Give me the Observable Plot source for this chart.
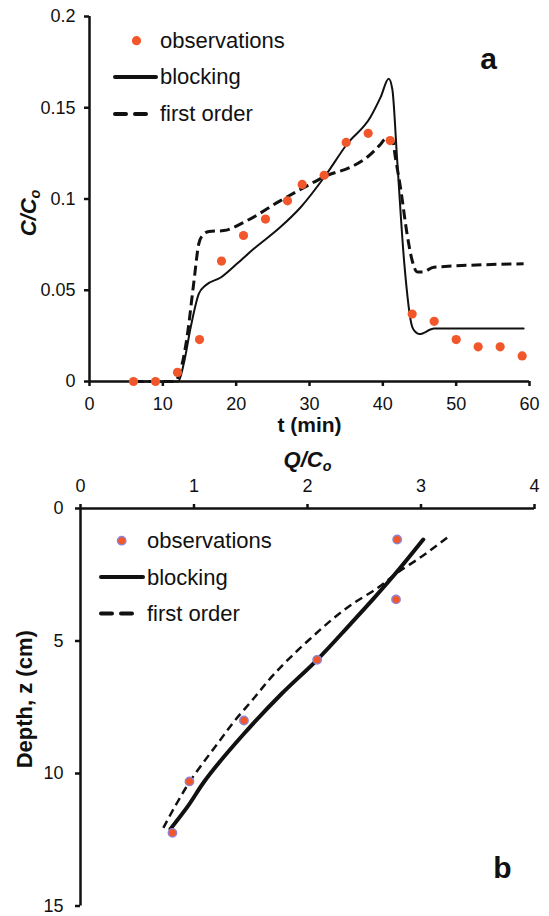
<!DOCTYPE html>
<html>
<head>
<meta charset="utf-8">
<script src="https://cdn.jsdelivr.net/npm/d3@7"></script>
<script src="https://cdn.jsdelivr.net/npm/@observablehq/plot@0.6"></script>
<style>
  html, body { margin: 0; padding: 0; background: #fff; }
  #wrap { position: relative; width: 549px; height: 916px; overflow: hidden; }
  .panel { position: absolute; left: 0; }
  .panel svg { display: block; }
  #legend { position: absolute; left: 0; top: 0; pointer-events: none; }
</style>
</head>
<body>
<div id="wrap">
  <div class="panel" id="panelA" style="top:0px"></div>
  <div class="panel" id="panelB" style="top:445px"></div>
</div>
<script>
// ---------------- DATA: panel a (C/Co vs t) ----------------
const tObs = [6, 9, 12, 15, 18, 21, 24, 27, 29, 32, 35, 38, 41, 44, 47, 50, 53, 56, 59];
const cObs = [0, 0, 0.005, 0.023, 0.066, 0.080, 0.089, 0.099, 0.108, 0.113, 0.131, 0.136, 0.132, 0.037, 0.033, 0.023, 0.019, 0.019, 0.014];

const tBlock = [6, 12.1, 12.85, 13.8, 14.9, 15.8, 17.9, 20.1, 22.4, 26.0, 28.8, 32.2, 35.1, 38.3, 39.7, 40.8, 41.3, 41.96, 42.9, 44.0, 44.5, 45.0, 47.0, 59.2];
const cBlock = [0, 0, 0.0097, 0.0297, 0.048, 0.0526, 0.057, 0.0645, 0.0727, 0.0845, 0.0955, 0.113, 0.130, 0.1448, 0.1558, 0.1659, 0.160, 0.121, 0.066, 0.030, 0.027, 0.026, 0.029, 0.029];

const tFirst = [6, 11.6, 12.4, 13.3, 14.2, 14.9, 15.4, 16.3, 18.3, 21.5, 26.0, 29.8, 32.4, 35.6, 37.9, 39.7, 40.4, 41.3, 41.7, 42.4, 43.3, 44.0, 44.7, 45.4, 46.95, 59.2];
const cFirst = [0, 0, 0.006, 0.0243, 0.0535, 0.0754, 0.080, 0.0822, 0.0827, 0.0882, 0.099, 0.1075, 0.1129, 0.1174, 0.123, 0.130, 0.133, 0.133, 0.123, 0.1065, 0.081, 0.0663, 0.060, 0.060, 0.0626, 0.0645];

const xTicksA = [0, 10, 20, 30, 40, 50, 60];
const yTicksA = [0, 0.05, 0.1, 0.15, 0.2];

// ---------------- DATA: panel b (depth vs Q/Co) ----------------
const zObs = [1.17, 3.43, 5.71, 8.0, 10.3, 12.24];
const qObs = [2.79, 2.78, 2.085, 1.44, 0.96, 0.81];

const zBlock = [1.17, 2.53, 3.41, 4.35, 5.71, 7.0, 8.5, 10.33, 11.27, 12.09];
const qBlock = [3.02, 2.76, 2.58, 2.38, 2.085, 1.77, 1.44, 1.086, 0.94, 0.793];

const zFirst = [1.1, 1.83, 2.46, 2.96, 3.65, 4.97, 6.23, 7.3, 8.0, 8.8, 9.6, 10.26, 11.15, 12.05];
const qFirst = [3.23, 3.0, 2.78, 2.63, 2.38, 2.01, 1.71, 1.50, 1.36, 1.22, 1.08, 0.97, 0.845, 0.73];

const xTicksB = [0, 1, 2, 3, 4];
const yTicksB = [0, 5, 10, 15];

const legendLabels = ["observations", "blocking", "first order"];

// ---------------- STYLE ----------------
const FONT = '"Liberation Sans", Arial, Helvetica, sans-serif';
const INK = "#111111";
const ORANGE = "#f2572b";
const LAVENDER = "#8d84d6";

const obsA = tObs.map((t, i) => ({t, c: cObs[i]}));
const blockA = tBlock.map((t, i) => ({t, c: cBlock[i]}));
const firstA = tFirst.map((t, i) => ({t, c: cFirst[i]}));

const obsB = zObs.map((z, i) => ({z, q: qObs[i]}));
const blockB = zBlock.map((z, i) => ({z, q: qBlock[i]}));
const firstB = zFirst.map((z, i) => ({z, q: qFirst[i]}));

function subscriptify(svg, label, main, sub) {
  d3.select(svg).selectAll("text")
    .filter(function () { return this.textContent === label; })
    .each(function () {
      const t = d3.select(this);
      t.text(null);
      t.append("tspan").text(main);
      t.append("tspan").attr("font-size", "65%").attr("dy", "0.3em").text(sub);
    });
}

// ---------------- PANEL A ----------------
const chartA = Plot.plot({
  width: 549,
  height: 445,
  marginLeft: 89,
  marginRight: 20,
  marginTop: 16,
  marginBottom: 64,
  style: {fontFamily: FONT, fontSize: "18px", color: INK, background: "#fff", overflow: "visible"},
  x: {domain: [0, 60], label: null},
  y: {domain: [0, 0.2], label: null},
  marks: [
    Plot.axisX({ticks: xTicksA, tickSize: 5, tickPadding: 11, strokeWidth: 2.5, fontSize: 18, label: null, tickFormat: d => String(d)}),
    Plot.axisY({ticks: yTicksA, tickSize: 5, tickPadding: 9, strokeWidth: 2.5, fontSize: 18, label: null, tickFormat: d => String(d)}),
    Plot.line(firstA, {x: "t", y: "c", stroke: INK, strokeWidth: 3, strokeDasharray: "10,5", strokeLinecap: "butt", curve: "monotone-x"}),
    Plot.line(blockA, {x: "t", y: "c", stroke: INK, strokeWidth: 2, curve: "monotone-x"}),
    Plot.ruleX([0], {stroke: INK, strokeWidth: 2.5}),
    Plot.ruleY([0], {stroke: INK, strokeWidth: 2.5}),
    Plot.dot(obsA, {x: "t", y: "c", r: 4.6, fill: ORANGE, stroke: "none"}),
    Plot.text(["t (min)"], {text: d => d, frameAnchor: "bottom", textAnchor: "middle", lineAnchor: "middle", dy: 43.5, fontSize: 21, fontWeight: "bold", fill: INK}),
    Plot.text(["C/Co"], {text: d => d, frameAnchor: "left", textAnchor: "middle", lineAnchor: "middle", rotate: -90, dx: -61, dy: 14, fontSize: 22, fontWeight: "bold", fontStyle: "italic", fill: INK}),
    Plot.text(["a"], {text: d => d, frameAnchor: "top-right", textAnchor: "middle", lineAnchor: "middle", dx: -41, dy: 43, fontSize: 30, fontWeight: "bold", fill: INK})
  ]
});
subscriptify(chartA, "C/Co", "C/C", "o");
document.getElementById("panelA").appendChild(chartA);

// ---------------- PANEL B ----------------
const chartB = Plot.plot({
  width: 549,
  height: 471,
  marginLeft: 80,
  marginRight: 15,
  marginTop: 63,
  marginBottom: 10.5,
  style: {fontFamily: FONT, fontSize: "18px", color: INK, background: "#fff", overflow: "visible"},
  x: {domain: [0, 4], label: null},
  y: {domain: [0, 15], reverse: true, label: null},
  marks: [
    Plot.axisX({anchor: "top", ticks: xTicksB, tickSize: 5, tickPadding: 12, strokeWidth: 2.5, fontSize: 18, label: null, tickFormat: d => String(d)}),
    Plot.axisY({ticks: yTicksB, tickSize: 5, tickPadding: 12, strokeWidth: 2.5, fontSize: 18, label: null, tickFormat: d => String(d)}),
    Plot.line(firstB, {x: "q", y: "z", stroke: INK, strokeWidth: 2.5, strokeDasharray: "8,5", strokeLinecap: "butt", curve: "monotone-y"}),
    Plot.line(blockB, {x: "q", y: "z", stroke: INK, strokeWidth: 4, curve: "monotone-y"}),
    Plot.ruleX([0], {stroke: INK, strokeWidth: 2.5}),
    Plot.ruleY([0], {stroke: INK, strokeWidth: 2.5}),
    Plot.dot(obsB, {x: "q", y: "z", r: 4.2, fill: ORANGE, stroke: LAVENDER, strokeWidth: 1.4}),
    Plot.text(["Q/Co"], {text: d => d, frameAnchor: "top", textAnchor: "middle", lineAnchor: "middle", dy: -49, fontSize: 22, fontWeight: "bold", fontStyle: "italic", fill: INK}),
    Plot.text(["Depth, z (cm)"], {text: d => d, frameAnchor: "left", textAnchor: "middle", lineAnchor: "middle", rotate: -90, dx: -56, dy: -8, fontSize: 22, fontWeight: "bold", fill: INK}),
    Plot.text(["b"], {text: d => d, frameAnchor: "bottom-right", textAnchor: "middle", lineAnchor: "middle", dx: -32, dy: -38, fontSize: 30, fontWeight: "bold", fill: INK})
  ]
});
subscriptify(chartB, "Q/Co", "Q/C", "o");
document.getElementById("panelB").appendChild(chartB);

// ---------------- LEGENDS (overlay) ----------------
const legendSvg = d3.select("#wrap").append("svg")
  .attr("id", "legend").attr("width", 549).attr("height", 916)
  .attr("font-family", FONT);

function drawLegend(cfg) {
  const g = legendSvg.append("g");
  g.append("circle").attr("cx", cfg.dotX).attr("cy", cfg.rowY[0]).attr("r", cfg.dotR)
    .attr("fill", ORANGE).attr("stroke", cfg.dotStroke || "none").attr("stroke-width", cfg.dotStroke ? 1.4 : 0);
  g.append("line").attr("x1", cfg.lineX1).attr("x2", cfg.lineX2)
    .attr("y1", cfg.rowY[1]).attr("y2", cfg.rowY[1])
    .attr("stroke", INK).attr("stroke-width", 4).attr("stroke-linecap", "round");
  g.append("line").attr("x1", cfg.lineX1).attr("x2", cfg.dashX2)
    .attr("y1", cfg.rowY[2]).attr("y2", cfg.rowY[2])
    .attr("stroke", INK).attr("stroke-width", 4).attr("stroke-dasharray", cfg.dash)
    .attr("stroke-linecap", "round");
  legendLabels.forEach((lab, i) => {
    g.append("text").attr("x", cfg.textX).attr("y", cfg.baseY[i])
      .attr("font-size", 22).attr("fill", INK).text(lab);
  });
}

drawLegend({
  dotX: 136.5, dotR: 4.6, rowY: [40.7, 77, 114], baseY: [48, 83.5, 120.5],
  lineX1: 115, lineX2: 156, dashX2: 149, dash: "11,9", textX: 160
});
drawLegend({
  dotX: 121.7, dotR: 4.2, dotStroke: LAVENDER, rowY: [540.7, 577, 613.5], baseY: [548, 585, 621],
  lineX1: 101, lineX2: 143, dashX2: 134, dash: "11,9", textX: 147
});
</script>
</body>
</html>
